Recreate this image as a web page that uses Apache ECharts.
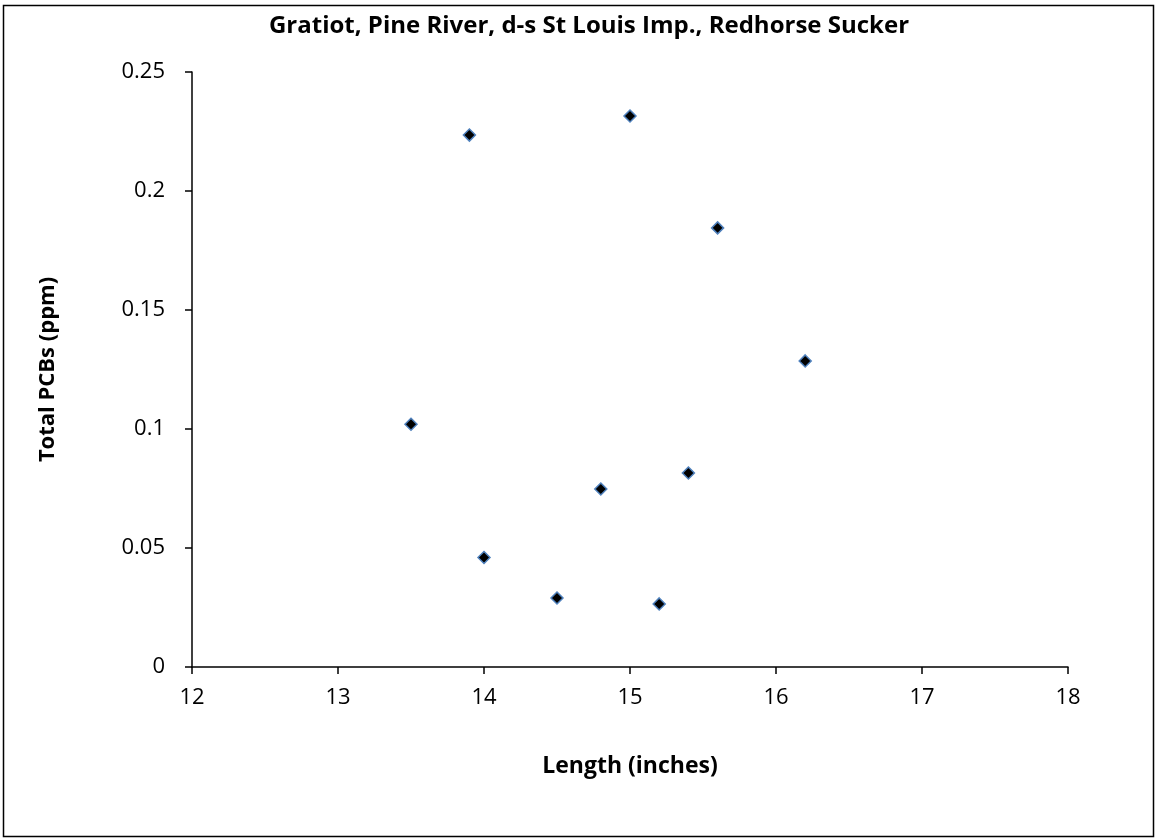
<!DOCTYPE html>
<html>
<head>
<meta charset="utf-8">
<style>
  html, body { margin: 0; padding: 0; background: #fff; }
  #chart { width: 1156px; height: 840px; }
</style>
<script src="https://cdn.jsdelivr.net/npm/echarts@6/dist/echarts.min.js"></script>
</head>
<body>
<div id="chart"></div>
<script>
// length in inches, total PCBs in ppm
var lengths = [13.5, 13.9, 14.0, 14.5, 14.8, 15.0, 15.2, 15.4, 15.6, 16.2];
var pcbs = [0.102, 0.2235, 0.046, 0.029, 0.0748, 0.2315, 0.0265, 0.0815, 0.1845, 0.1286];

var points = [];
for (var i = 0; i < lengths.length; i++) {
    points.push([lengths[i], pcbs[i]]);
}

var myChart = echarts.init(document.getElementById('chart'));
var fontName = '"Open Sans", "Liberation Sans", sans-serif';

var option = {
    animation: false,
    backgroundColor: '#fff',
    title: {
        text: 'Gratiot, Pine River, d-s St Louis Imp., Redhorse Sucker',
        left: 584,
        textAlign: 'center',
        top: 9,
        textStyle: { fontFamily: fontName, fontSize: 24, fontWeight: 'bold', color: '#000' }
    },
    graphic: [{
        type: 'rect',
        shape: { x: 3.5, y: 5.5, width: 1150, height: 831 },
        style: { fill: 'none', stroke: '#000', lineWidth: 1.5 },
        silent: true
    }],
    grid: { left: 192, right: 88, top: 72, bottom: 173 },
    xAxis: {
        type: 'value',
        min: 12,
        max: 18,
        interval: 1,
        name: 'Length (inches)',
        nameLocation: 'middle',
        nameGap: 88,
        nameTextStyle: { fontFamily: fontName, fontSize: 23, fontWeight: 'bold', color: '#000' },
        axisLine: { onZero: false, lineStyle: { color: '#000', width: 1.5 } },
        axisTick: { show: true, inside: false, length: 7, lineStyle: { color: '#000', width: 1.5 } },
        axisLabel: { fontFamily: fontName, fontSize: 22, color: '#000', margin: 20 },
        splitLine: { show: false }
    },
    yAxis: {
        type: 'value',
        min: 0,
        max: 0.25,
        interval: 0.05,
        name: 'Total PCBs (ppm)',
        nameLocation: 'middle',
        nameGap: 133,
        nameRotate: 90,
        nameTextStyle: { fontFamily: fontName, fontSize: 22, fontWeight: 'bold', color: '#000' },
        axisLine: { show: true, lineStyle: { color: '#000', width: 1.5 } },
        axisTick: { show: true, inside: false, length: 7, lineStyle: { color: '#000', width: 1.5 } },
        axisLabel: { fontFamily: fontName, fontSize: 22, color: '#000', margin: 27 },
        splitLine: { show: false }
    },
    series: [{
        type: 'scatter',
        data: points,
        symbol: 'diamond',
        symbolSize: 12,
        itemStyle: { color: '#000', borderColor: '#4F81BD', borderWidth: 1.5, opacity: 1 }
    }]
};

myChart.setOption(option);
</script>
</body>
</html>
